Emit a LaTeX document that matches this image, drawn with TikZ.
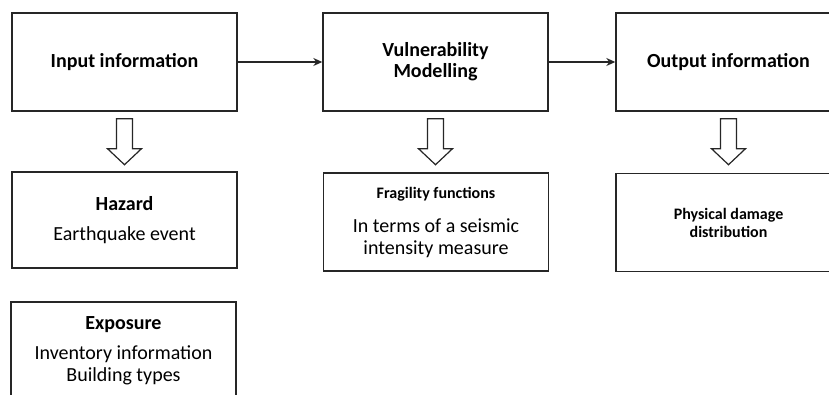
\documentclass[tikz,border=0pt]{standalone}
\usepackage{fontspec}
\setmainfont{Carlito}
\usetikzlibrary{arrows.meta}

\begin{document}
\begin{tikzpicture}[x=1pt,y=1pt,
  box/.style={draw=black!85,line width=1.4pt,minimum width=225pt,minimum height=98pt,align=center,inner sep=0pt,font=\fontsize{20}{22}\selectfont},
  flow/.style={draw=black!85,line width=1.3pt,-{Stealth[length=9pt,width=8pt]}},
  hollow/.style={draw=black!85,line width=1.2pt,fill=white}]
    \useasboundingbox (0,0) rectangle (829,-395);
    \clip (0,0) rectangle (829,-395);

    \node[box,font=\bfseries\fontsize{20}{21}\selectfont] (input) at (124.5,-62) {Input information};
    \node[box,font=\bfseries\fontsize{20}{21}\selectfont] (vuln) at (435.5,-62) {Vulnerability\\Modelling};
    \node[box,font=\bfseries\fontsize{20}{21}\selectfont] (output) at (728.5,-62) {Output information};

    \node[box,minimum height=96pt] (hazard) at (124.5,-220) {\textbf{Hazard}\\[8pt]Earthquake event};
    \node[box] (fragility) at (436,-222) {{\bfseries\fontsize{16}{18}\selectfont Fragility functions}\\[12pt]In terms of a seismic\\intensity measure};
    \node[box,font=\bfseries\fontsize{16}{18}\selectfont] (damage) at (728.5,-222.5) {Physical damage\\distribution};
    \node[box] (exposure) at (123.5,-351) {\textbf{Exposure}\\[8pt]Inventory information\\Building types};

    \draw[flow] (input) -- (vuln);
    \draw[flow] (vuln) -- (output);

    % hollow arrows down to the detail boxes
    \draw[hollow] (input.south) ++(-8,-7) -- ++(0,-30) -- ++(-9,0) -- ++(17,-16) -- ++(17,16) -- ++(-9,0) -- ++(0,30) -- cycle;
    \draw[hollow] (vuln.south) ++(-8,-7) -- ++(0,-30) -- ++(-9,0) -- ++(17,-16) -- ++(17,16) -- ++(-9,0) -- ++(0,30) -- cycle;
    \draw[hollow] (output.south) ++(-8,-7) -- ++(0,-30) -- ++(-9,0) -- ++(17,-16) -- ++(17,16) -- ++(-9,0) -- ++(0,30) -- cycle;
\end{tikzpicture}
\end{document}
